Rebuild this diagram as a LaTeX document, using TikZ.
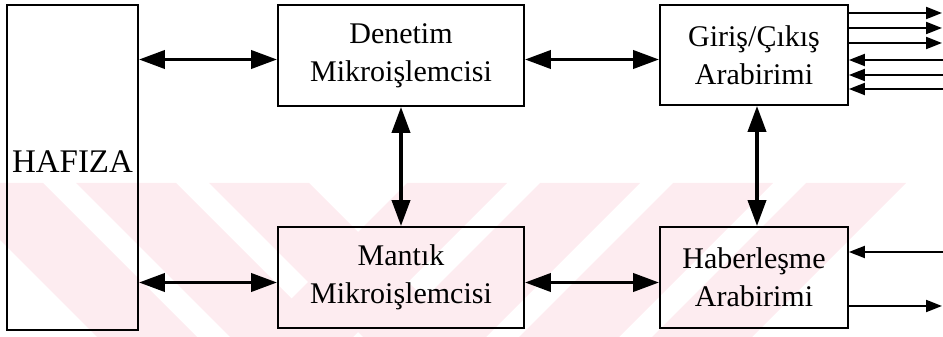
\documentclass[tikz,border=0pt]{standalone}
\usepackage{fontspec}
\setmainfont{Liberation Serif}
\usetikzlibrary{arrows.meta}
\definecolor{wmpink}{RGB}{253,236,240}

\begin{document}
\begin{tikzpicture}[x=1pt,y=1pt,
  box/.style={draw,line width=1.8pt,align=center,inner sep=0pt,
    font=\fontsize{30}{38}\selectfont},
  bus/.style={line width=3.8pt,
    {Triangle[length=26pt,width=18pt]}-{Triangle[length=26pt,width=18pt]}},
  sig/.style={line width=2pt,-{Triangle[length=16pt,width=12pt]}}]

  \useasboundingbox (0,0) rectangle (943,337);

  % pale stripes over the lower half
  \foreach \s in {-57,76,209} {
    \fill[wmpink] (\s,154) -- (\s+100,154) -- (\s+254,0) -- (\s+154,0) -- cycle;
  }
  \foreach \s in {407,540,673,806} {
    \fill[wmpink] (\s,154) -- (\s+100,154) -- (\s-54,0) -- (\s-154,0) -- cycle;
  }

  \node (hafiza) at (72.5,169.5) [box,minimum width=131,minimum height=325]
    {\fontsize{33}{38}\selectfont\raisebox{12pt}{HAFIZA}};

  \node (denetim) at (401,281.5) [box,minimum width=246,minimum height=101] {Denetim\\Mikroişlemcisi};
  \node (mantik)  at (401,59.5)  [box,minimum width=246,minimum height=101] {Mantık\\Mikroişlemcisi};

  \node (giris) at (754,282)  [box,minimum width=188,minimum height=100] {Giriş/Çıkış\\Arabirimi};
  \node (haber) at (754,59.5) [box,minimum width=188,minimum height=101] {Haberleşme\\Arabirimi};

  \draw[bus] ([yshift=-4pt]denetim.west -| hafiza.east) -- ([yshift=-4pt]denetim.west);
  \draw[bus] ([yshift=-5pt]mantik.west -| hafiza.east) -- ([yshift=-5pt]mantik.west);
  \draw[bus] ([yshift=-4pt]denetim.east) -- ([yshift=-4pt]denetim.east -| giris.west);
  \draw[bus] ([yshift=-5pt]mantik.east) -- ([yshift=-5pt]mantik.east -| haber.west);
  \draw[bus] (denetim.south) -- (mantik.north);
  \draw[bus] ([xshift=3pt]giris.south) -- ([xshift=3pt]haber.north);

  % port lines on the right
  \foreach \y [count=\i] in {324,309,294} {
    \coordinate (gout\i) at (942,\y);
    \draw[sig] (giris.east |- gout\i) -- (gout\i);
  }
  \foreach \y [count=\i] in {277,262,248} {
    \coordinate (gin\i) at (943,\y);
    \draw[sig] (gin\i) -- (giris.east |- gin\i);
  }

  \coordinate (hin) at (943,85);
  \coordinate (hout) at (942,31);
  \draw[sig] (hin) -- (haber.east |- hin);
  \draw[sig] (haber.east |- hout) -- (hout);

\end{tikzpicture}
\end{document}
